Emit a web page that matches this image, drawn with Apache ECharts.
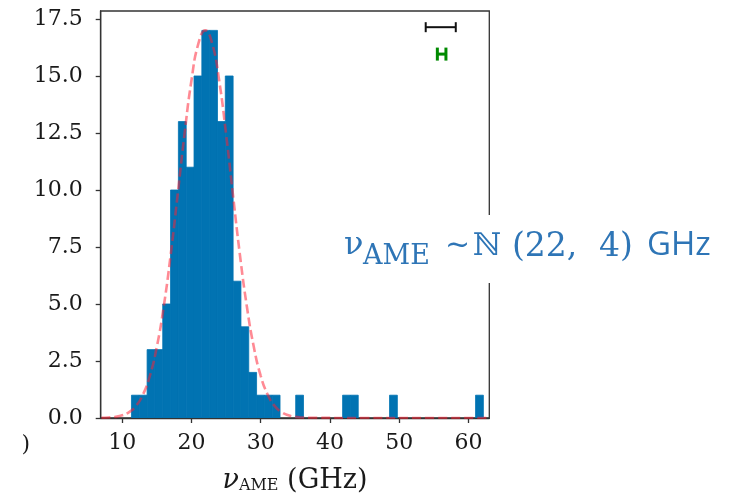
<!DOCTYPE html>
<html>
<head>
<meta charset="utf-8">
<script src="https://cdn.jsdelivr.net/npm/echarts@6/dist/echarts.min.js"></script>
<style>
html,body{margin:0;padding:0;background:#fff;}
#chart{width:746px;height:497px;}
</style>
</head>
<body>
<div id="chart"></div>
<script>
// ---- data ----
const binStart = 11.34;
const binWidth = 1.129;
const counts = [1,1,3,3,5,10,13,11,15,17,17,13,15,6,4,2,1,1,1,0,0,1,0,0,0,0,0,1,1,0,0,0,0,1,0,0,0,0,0,0,0,0,0,0,1];

const fitX = [7,8,9,10,11,12,13,14,15,16,17,18,19,20,21,22,23,24,25,26,27,28,29,30,31,32,33,34,35,36,37,45,55,63];
const fitY = [0.01,0.02,0.05,0.12,0.26,0.53,1.03,1.85,3.12,4.89,7.15,9.77,12.45,14.80,16.42,17.0,16.42,14.80,12.45,9.77,7.15,4.89,3.12,1.85,1.03,0.53,0.26,0.12,0.05,0.02,0.01,0,0,0];

const xTicks = [10,20,30,40,50,60];
const yTicks = [0,2.5,5,7.5,10,12.5,15,17.5];

const blackBarCenter = [55.99], blackBarY = [17.14], blackBarHalf = [2.17];
const greenBarCenter = [56.12], greenBarY = [15.96], greenBarHalf = [0.62];

// ---- build ----
const histData = [];
counts.forEach((c, i) => {
  if (c > 0) histData.push([binStart + i * binWidth, binStart + (i + 1) * binWidth, c]);
});
const fitData = fitX.map((x, i) => [x, fitY[i]]);
const blackData = blackBarCenter.map((c, i) => [c, blackBarY[i], blackBarHalf[i]]);
const greenData = greenBarCenter.map((c, i) => [c, greenBarY[i], greenBarHalf[i]]);

function errRender(color, capH, lw) {
  return function (params, api) {
    const c = api.value(0), y = api.value(1), h = api.value(2);
    const a = api.coord([c - h, y]);
    const b = api.coord([c + h, y]);
    return {
      type: 'group',
      children: [
        {type: 'line', shape: {x1: a[0], y1: a[1], x2: b[0], y2: b[1]}, style: {stroke: color, lineWidth: lw}},
        {type: 'line', shape: {x1: a[0], y1: a[1] - capH / 2, x2: a[0], y2: a[1] + capH / 2}, style: {stroke: color, lineWidth: lw}},
        {type: 'line', shape: {x1: b[0], y1: b[1] - capH / 2, x2: b[0], y2: b[1] + capH / 2}, style: {stroke: color, lineWidth: lw}}
      ]
    };
  };
}

const chart = echarts.init(document.getElementById('chart'), null, {renderer: 'canvas'});
const axisColor = '#333';
const tickFont = {fontFamily: 'DejaVu Serif', fontSize: 22, color: '#1a1a1a'};
const annColor = '#2e75b6';
const barColor = '#0173b2';

chart.setOption({
  animation: false,
  backgroundColor: '#fff',
  grid: {
    left: 100.7, top: 11, right: 256.7, bottom: 79,
    show: true, borderColor: axisColor, borderWidth: 1.3,
    outerBoundsMode: 'none', containLabel: false
  },
  xAxis: {
    type: 'value', min: 6.9, max: 63.0,
    axisLine: {show: true, onZero: false, lineStyle: {color: axisColor, width: 1.3}},
    axisTick: {show: true, inside: false, length: 5, customValues: xTicks, lineStyle: {color: axisColor, width: 1.3}},
    axisLabel: Object.assign({margin: 14, customValues: xTicks, formatter: v => String(v)}, tickFont),
    splitLine: {show: false},
    name: '{nu|ν}{sub|AME}{txt| (GHz)}',
    nameLocation: 'middle',
    nameGap: 46,
    nameTextStyle: {
      rich: {
        nu: {fontFamily: 'DejaVu Serif', fontStyle: 'italic', fontSize: 27, color: '#1a1a1a', lineHeight: 30, verticalAlign: 'bottom'},
        sub: {fontFamily: 'DejaVu Serif', fontSize: 16, color: '#1a1a1a', lineHeight: 20, verticalAlign: 'bottom'},
        txt: {fontFamily: 'DejaVu Serif', fontSize: 27, color: '#1a1a1a', lineHeight: 30, verticalAlign: 'bottom'}
      }
    }
  },
  yAxis: {
    type: 'value', min: 0, max: 17.85,
    axisLine: {show: true, lineStyle: {color: axisColor, width: 1.3}},
    axisTick: {show: true, inside: false, length: 5, customValues: yTicks, lineStyle: {color: axisColor, width: 1.3}},
    axisLabel: Object.assign({margin: 18, customValues: yTicks, formatter: v => v.toFixed(1)}, tickFont),
    splitLine: {show: false}
  },
  series: [
    {
      type: 'custom',
      data: histData,
      z: 2,
      clip: true,
      renderItem: function (params, api) {
        const p0 = api.coord([api.value(0), api.value(2)]);
        const p1 = api.coord([api.value(1), 0]);
        return {type: 'rect', shape: {x: p0[0], y: p0[1], width: p1[0] - p0[0], height: p1[1] - p0[1]},
                style: {fill: barColor, stroke: barColor, lineWidth: 0.8}};
      }
    },
    {
      type: 'line',
      data: fitData,
      z: 3,
      smooth: true,
      showSymbol: false,
      symbol: 'none',
      clip: true,
      lineStyle: {color: 'rgba(255,30,50,0.52)', width: 2.6, type: [9, 4]}
    },
    {type: 'custom', data: blackData, z: 4, renderItem: errRender('#111', 10, 2)},
    {type: 'custom', data: greenData, z: 4, renderItem: errRender('#008a00', 13, 3)}
  ],
  graphic: [
    {type: 'text', x: 30, y: 445, z: 10, style: {text: ')', fontFamily: 'DejaVu Serif', fontSize: 22, fill: '#1a1a1a', align: 'right', verticalAlign: 'middle'}},
    {type: 'rect', z: 50, shape: {x: 338, y: 215, width: 400, height: 68}, style: {fill: '#fff'}},
    {type: 'text', z: 60, x: 344, y: 246, style: {text: 'ν', fontFamily: 'DejaVu Serif', fontSize: 32, fill: annColor, verticalAlign: 'middle'}},
    {type: 'text', z: 60, x: 363, y: 257, style: {text: 'AME', fontFamily: 'DejaVu Serif', fontSize: 27, fill: annColor, verticalAlign: 'middle'}},
    {type: 'text', z: 60, x: 445, y: 246, style: {text: '~', fontFamily: 'DejaVu Serif', fontSize: 30, fill: annColor, verticalAlign: 'middle'}},
    {type: 'text', z: 60, x: 473, y: 247, style: {text: 'ℕ', fontFamily: 'DejaVu Serif', fontSize: 31, fill: annColor, verticalAlign: 'middle'}},
    {type: 'text', z: 60, x: 512, y: 247, style: {text: '(22,', fontFamily: 'DejaVu Serif', fontSize: 33, fill: annColor, verticalAlign: 'middle'}},
    {type: 'text', z: 60, x: 599, y: 247, style: {text: '4)', fontFamily: 'DejaVu Serif', fontSize: 33, fill: annColor, verticalAlign: 'middle'}},
    {type: 'text', z: 60, x: 647, y: 246, style: {text: 'GHz', fontFamily: 'Open Sans', fontSize: 33, fill: annColor, verticalAlign: 'middle'}}
  ]
});
</script>
</body>
</html>
